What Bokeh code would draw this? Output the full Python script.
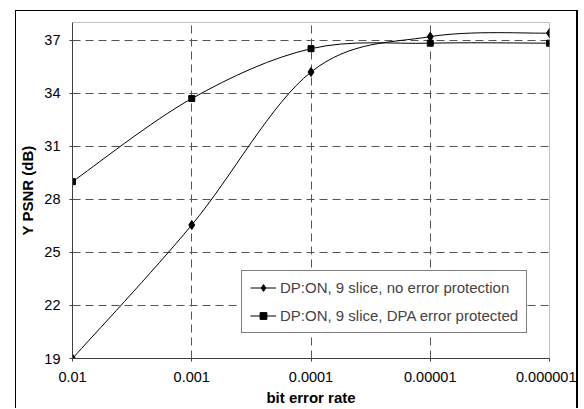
from bokeh.plotting import figure
from bokeh.models import (Range1d, FixedTicker, Legend, LegendItem)
from bokeh.embed import file_html
from bokeh.resources import INLINE

# ---- data ----
ber_labels = ["0.01", "0.001", "0.0001", "0.00001", "0.000001"]
psnr_no_protection = [19.0, 26.55, 35.2, 37.2, 37.4]
psnr_dpa_protected = [29.0, 33.7, 36.52, 36.83, 36.83]
series_names = ["DP:ON, 9 slice, no error protection",
                "DP:ON, 9 slice, DPA error protected"]
y_ticks = [19, 22, 25, 28, 31, 34, 37]

FONT = "Liberation Sans"
xs = list(range(len(ber_labels)))


def smooth_segments(x, y):
    """Catmull-Rom style bezier control points (Excel-like smoothed line)."""
    n = len(x)
    segs = dict(x0=[], y0=[], x1=[], y1=[], cx0=[], cy0=[], cx1=[], cy1=[])
    for i in range(n - 1):
        xp, yp = (x[i - 1], y[i - 1]) if i > 0 else (x[i], y[i])
        xn, yn = (x[i + 2], y[i + 2]) if i + 2 < n else (x[i + 1], y[i + 1])
        segs["x0"].append(x[i]); segs["y0"].append(y[i])
        segs["x1"].append(x[i + 1]); segs["y1"].append(y[i + 1])
        segs["cx0"].append(x[i] + (x[i + 1] - xp) / 6.0)
        segs["cy0"].append(y[i] + (y[i + 1] - yp) / 6.0)
        segs["cx1"].append(x[i + 1] - (xn - x[i]) / 6.0)
        segs["cy1"].append(y[i + 1] - (yn - y[i]) / 6.0)
    return segs


p = figure(width=563, height=398, output_backend="svg", toolbar_location=None,
           x_range=Range1d(0, len(ber_labels) - 1), y_range=Range1d(19, 38),
           min_border_left=54, min_border_right=30, min_border_top=11,
           min_border_bottom=51)
p.styles = {"margin-left": "15px", "margin-top": "10px",
            "border-left": "1px solid black", "border-top": "1px solid black",
            "border-right": "2px solid black"}

p.outline_line_color = "#c0c0c0"
p.outline_line_width = 1

# grids
p.xgrid.ticker = FixedTicker(ticks=xs)
p.ygrid.ticker = FixedTicker(ticks=y_ticks)
for g in (p.xgrid, p.ygrid):
    g.grid_line_color = "#555555"
    g.grid_line_dash = "8 5"
    g.grid_line_width = 1

# axes
p.xaxis.ticker = FixedTicker(ticks=xs)
p.xaxis.major_label_overrides = {i: lab for i, lab in enumerate(ber_labels)}
p.yaxis.ticker = FixedTicker(ticks=y_ticks)
for ax in (p.xaxis, p.yaxis):
    ax.axis_line_color = "#404040"
    ax.axis_line_width = 1
    ax.major_tick_line_color = "#404040"
    ax.major_tick_in = 0
    ax.major_tick_out = 3
    ax.minor_tick_line_color = None
    ax.major_label_text_font = FONT
    ax.major_label_text_font_size = "14.5px"
    ax.major_label_text_color = "black"
    ax.axis_label_text_font = FONT
    ax.axis_label_text_font_size = "15px"
    ax.axis_label_text_font_style = "bold"
    ax.axis_label_text_color = "black"
p.xaxis.axis_label = "bit error rate"
p.yaxis.axis_label = "Y PSNR (dB)"
p.xaxis.major_label_standoff = 10
p.xaxis.axis_label_standoff = 4
p.yaxis.major_label_standoff = 9
p.yaxis.axis_label_standoff = 5

# curves
s1 = smooth_segments(xs, psnr_no_protection)
s2 = smooth_segments(xs, psnr_dpa_protected)
b1 = p.bezier(line_color="black", line_width=1, **s1)
b2 = p.bezier(line_color="black", line_width=1, **s2)
m1 = p.scatter(xs, psnr_no_protection, marker="diamond", size=9,
               fill_color="black", line_color="black")
m2 = p.scatter(xs, psnr_dpa_protected, marker="square", size=6,
               fill_color="black", line_color="black")

legend = Legend(items=[LegendItem(label=series_names[0], renderers=[b1, m1]),
                       LegendItem(label=series_names[1], renderers=[b2, m2])],
                location=(169, 25))
legend.border_line_color = "black"
legend.border_line_width = 1
legend.background_fill_color = "white"
legend.background_fill_alpha = 1
legend.label_text_font = FONT
legend.label_text_font_size = "15px"
legend.padding = 8
legend.spacing = 11
legend.glyph_width = 26
legend.glyph_height = 17
legend.label_height = 17
legend.label_standoff = 4
legend.margin = 0
p.add_layout(legend, "center")

open("out.html", "w").write(file_html(p, INLINE))
